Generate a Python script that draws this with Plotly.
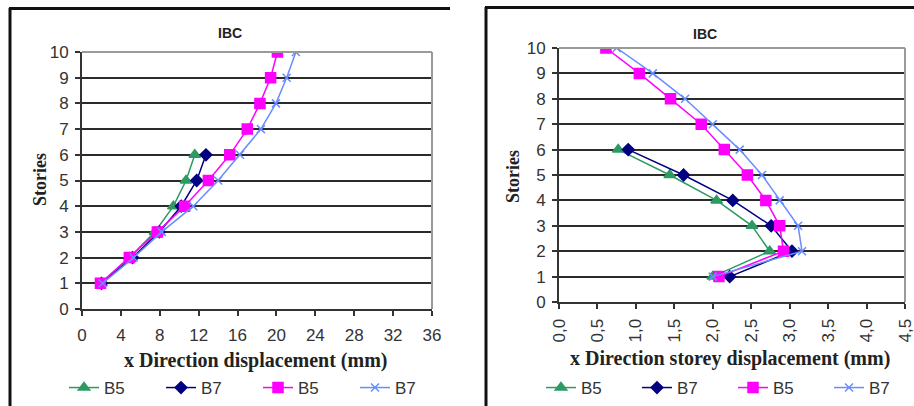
import plotly.graph_objects as go

W, H = 914, 406

stories = [1, 2, 3, 4, 5, 6, 7, 8, 9, 10]
stories6 = [1, 2, 3, 4, 5, 6]

# Left chart: x Direction displacement (mm)
disp_b5_a = [2.0, 4.9, 7.5, 9.4, 10.7, 11.6]
disp_b7_a = [2.0, 5.2, 7.95, 10.2, 11.8, 12.75]
disp_b5_b = [1.9, 4.87, 7.75, 10.55, 13.0, 15.2, 17.0, 18.3, 19.4, 20.1]
disp_b7_b = [2.1, 5.3, 8.2, 11.45, 14.0, 16.25, 18.4, 19.95, 21.05, 22.0]

# Right chart: x Direction storey displacement (mm)
drift_b5_a = [2.0, 2.74, 2.51, 2.05, 1.44, 0.77]
drift_b7_a = [2.22, 3.03, 2.76, 2.26, 1.62, 0.9]
drift_b5_b = [2.08, 2.92, 2.87, 2.69, 2.45, 2.15, 1.85, 1.45, 1.045, 0.61]
drift_b7_b = [2.0, 3.16, 3.11, 2.87, 2.64, 2.35, 2.0, 1.64, 1.22, 0.75]

left_xticks = [0, 4, 8, 12, 16, 20, 24, 28, 32, 36]
right_xticks = [0.0, 0.5, 1.0, 1.5, 2.0, 2.5, 3.0, 3.5, 4.0, 4.5]
right_xticktext = ["0,0", "0,5", "1,0", "1,5", "2,0", "2,5", "3,0", "3,5", "4,0", "4,5"]
y_ticks = [0, 1, 2, 3, 4, 5, 6, 7, 8, 9, 10]

GREEN = "#2e9a63"
NAVY = "#000080"
PINK = "#ff00ff"
BLUE = "#6a8cff"

def px_x(p):
    return p / W

def px_y(p):
    return 1 - p / H

fig = go.Figure()

series = [
    ("B5", GREEN, "triangle-up", 10, 1.5),
    ("B7", NAVY, "diamond", 9, 1.5),
    ("B5", PINK, "square", 10, 1.5),
    ("B7", BLUE, "x-thin-open", 8, 1.5),
]

left_data = [(disp_b5_a, stories6), (disp_b7_a, stories6), (disp_b5_b, stories), (disp_b7_b, stories)]
right_data = [(drift_b5_a, stories6), (drift_b7_a, stories6), (drift_b5_b, stories), (drift_b7_b, stories)]

for (name, col, sym, ms, lw), (xs, ys) in zip(series, left_data):
    fig.add_trace(go.Scatter(
        x=xs, y=ys, name=name, mode="lines+markers",
        line=dict(color=col, width=lw),
        marker=dict(symbol=sym, size=ms, color=col, line=dict(color=col, width=1.5)),
        xaxis="x", yaxis="y", legend="legend",
    ))
for (name, col, sym, ms, lw), (xs, ys) in zip(series, right_data):
    fig.add_trace(go.Scatter(
        x=xs, y=ys, name=name, mode="lines+markers",
        line=dict(color=col, width=lw),
        marker=dict(symbol=sym, size=ms, color=col, line=dict(color=col, width=1.5)),
        xaxis="x2", yaxis="y2", legend="legend2",
    ))

tickfont = dict(family="Liberation Sans, Arial", size=17, color="#333333")
grid = dict(showgrid=True, gridcolor="#2b2b2b", gridwidth=2)

L = dict(x0=82, x1=432, y0=52, y1=309)
R = dict(x0=559, x1=905, y0=48, y1=302)

legend_font = dict(family="Liberation Sans, Arial", size=17, color="#333")
axis_common = dict(zeroline=False, showline=True, linecolor="#333", linewidth=2,
                   ticks="outside", ticklen=5, tickwidth=1.5, tickcolor="#333", tickfont=tickfont,
                   ticklabeloverflow="allow")

fig.update_layout(
    width=W, height=H,
    margin=dict(l=0, r=0, t=0, b=0, autoexpand=False),
    paper_bgcolor="white", plot_bgcolor="white",
    xaxis=dict(domain=[px_x(L["x0"]), px_x(L["x1"])], range=[0, 36], tickvals=left_xticks,
               showgrid=False, ticklabelstandoff=5, anchor="y", **axis_common),
    yaxis=dict(domain=[px_y(L["y1"]), px_y(L["y0"])], range=[0, 10], tickvals=y_ticks,
               ticklabelstandoff=3, anchor="x", **axis_common, **grid),
    xaxis2=dict(domain=[px_x(R["x0"]), px_x(R["x1"])], range=[0, 4.5], tickvals=right_xticks,
                ticktext=right_xticktext, tickangle=-90, ticklabelstandoff=3,
                showgrid=False, anchor="y2", **axis_common),
    yaxis2=dict(domain=[px_y(R["y1"]), px_y(R["y0"])], range=[0, 10], tickvals=y_ticks,
                ticklabelstandoff=3, anchor="x2", **axis_common, **grid),
    legend=dict(orientation="h", x=px_x(64), y=px_y(388), xanchor="left", yanchor="middle",
                entrywidth=52, entrywidthmode="pixels", font=legend_font,
                bgcolor="rgba(0,0,0,0)", tracegroupgap=0),
    legend2=dict(orientation="h", x=px_x(541), y=px_y(388), xanchor="left", yanchor="middle",
                 entrywidth=51, entrywidthmode="pixels", font=legend_font,
                 bgcolor="rgba(0,0,0,0)", tracegroupgap=0),
    showlegend=True,
)

shapes = []
for P in (L, R):
    shapes.append(dict(type="line", xref="paper", yref="paper",
                       x0=px_x(P["x0"]), x1=px_x(P["x1"]), y0=px_y(P["y0"]), y1=px_y(P["y0"]),
                       line=dict(color="#9a9a9a", width=2), layer="above"))
    shapes.append(dict(type="line", xref="paper", yref="paper",
                       x0=px_x(P["x1"]), x1=px_x(P["x1"]), y0=px_y(P["y0"]), y1=px_y(P["y1"]),
                       line=dict(color="#9a9a9a", width=2), layer="above"))
shapes += [
    dict(type="line", xref="paper", yref="paper", x0=px_x(10), x1=px_x(10), y0=0, y1=px_y(8),
         line=dict(color="#111", width=3)),
    dict(type="line", xref="paper", yref="paper", x0=px_x(9), x1=px_x(450), y0=px_y(8.5), y1=px_y(8.5),
         line=dict(color="#111", width=3)),
    dict(type="line", xref="paper", yref="paper", x0=px_x(486), x1=px_x(486), y0=0, y1=px_y(7),
         line=dict(color="#111", width=3)),
    dict(type="line", xref="paper", yref="paper", x0=px_x(485), x1=1, y0=px_y(7.5), y1=px_y(7.5),
         line=dict(color="#111", width=3)),
]
fig.update_layout(shapes=shapes)

title_font = dict(family="Liberation Sans, Arial", size=14, color="#222")
xtitle_font = dict(family="Liberation Serif, Times New Roman", size=20, color="#222")
ytitle_font = dict(family="Liberation Serif, Times New Roman", size=18, color="#222")

def ann(text, x, y, font, angle=0):
    return dict(text=text, x=px_x(x), y=px_y(y), xref="paper", yref="paper",
                xanchor="center", yanchor="middle", showarrow=False, textangle=angle, font=font)

annotations = [
    ann("<b>IBC</b>", 230, 33, title_font),
    ann("<b>IBC</b>", 705, 34, title_font),
    ann("<b>x Direction displacement (mm)</b>", 255, 360, xtitle_font),
    ann("<b>x Direction storey displacement (mm)</b>", 730, 358, xtitle_font),
    ann("<b>Stories</b>", 40, 180, ytitle_font, -90),
    ann("<b>Stories</b>", 513, 177, ytitle_font, -90),
]
fig.update_layout(annotations=annotations)

fig.write_html("out.html", config={"displayModeBar": False})

# remove default page margin so the figure sits at the window's top-left corner
with open("out.html", "r", encoding="utf-8") as f:
    html = f.read()
html = html.replace("<body>", '<body style="margin:0;overflow:hidden">', 1)
with open("out.html", "w", encoding="utf-8") as f:
    f.write(html)
